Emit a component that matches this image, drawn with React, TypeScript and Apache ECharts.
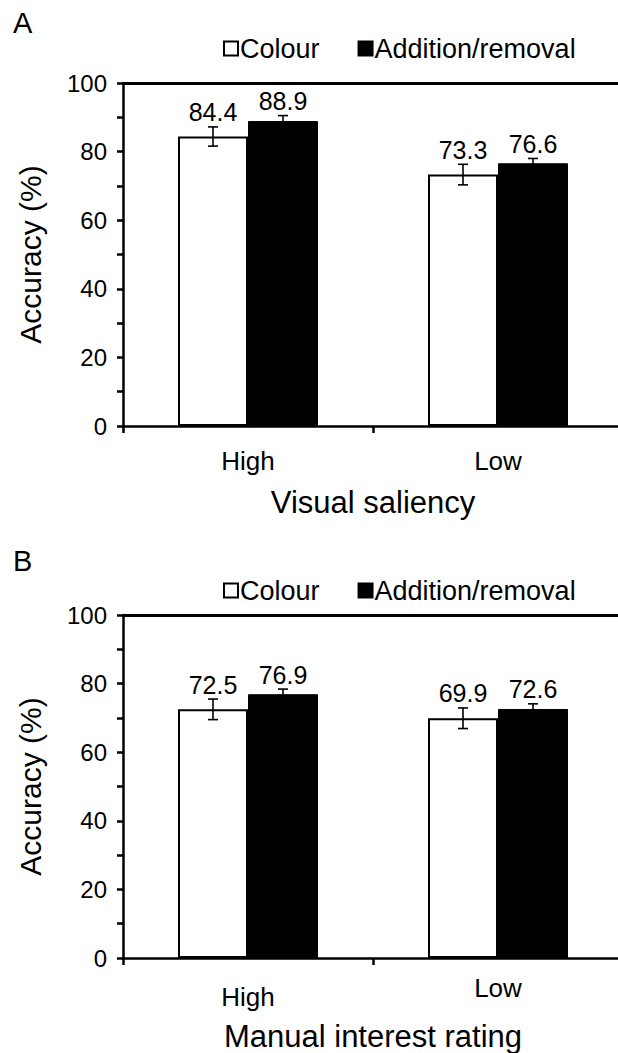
import React, { useEffect, useRef } from "react";
import * as echarts from "echarts";

const categories = ["High", "Low"];
const seriesNames = ["Colour", "Addition/removal"];

const colourA = [84.4, 73.3];
const additionA = [88.9, 76.6];
const colourErrA = [2.8, 3.0];
const additionErrA = [1.6, 1.4];

const colourB = [72.5, 69.9];
const additionB = [76.9, 72.6];
const colourErrB = [3.0, 3.0];
const additionErrB = [1.5, 1.5];

const panelLetters = ["A", "B"];
const xAxisTitles = ["Visual saliency", "Manual interest rating"];
const yAxisTitle = "Accuracy (%)";
const yMin = 0;
const yMax = 100;
const yTickStep = 10;
const yLabelStep = 20;

const FONT = "'Liberation Sans', Arial, Helvetica, sans-serif";

function errorRender(params: any, api: any) {
  const c = api.value(0);
  const v = api.value(1);
  const e = api.value(2);
  const side = api.value(3);
  const band = api.size([1, 0])[0];
  const base = api.coord([c, v]);
  const x = base[0] + side * band * 0.14;
  const top = api.coord([c, v + e])[1];
  const bot = api.coord([c, v - e])[1];
  const hw = 5;
  const ls = { stroke: "#000", lineWidth: 1.6 };
  return {
    type: "group",
    children: [
      { type: "line", shape: { x1: x, y1: top, x2: x, y2: bot }, style: ls },
      { type: "line", shape: { x1: x - hw, y1: top, x2: x + hw, y2: top }, style: ls },
      { type: "line", shape: { x1: x - hw, y1: bot, x2: x + hw, y2: bot }, style: ls },
      {
        type: "text",
        x: x,
        y: top - 2,
        style: {
          text: v.toFixed(1),
          fill: "#000",
          fontSize: 25,
          fontFamily: FONT,
          align: "center",
          verticalAlign: "bottom",
        },
      },
    ],
  };
}

function buildPanel(
  idx: number,
  top: number,
  colour: number[],
  addition: number[],
  colourErr: number[],
  additionErr: number[],
  richLabels: boolean
) {
  const grid = { left: 123, top: top, width: 500, height: 343, outerBoundsMode: "none", containLabel: false };
  const xBottom: any = {
    type: "category",
    gridIndex: idx,
    position: "bottom",
    data: categories,
    name: xAxisTitles[idx],
    nameLocation: "middle",
    nameGap: idx === 0 ? 61 : 63,
    nameTextStyle: { fontSize: 31, fontFamily: FONT, color: "#000" },
    axisLine: { show: true, onZero: false, lineStyle: { color: "#000", width: 2.5 } },
    axisTick: { show: true, inside: false, length: 7, alignWithLabel: false, lineStyle: { color: "#000", width: 2.5 } },
    axisLabel: richLabels
      ? {
          margin: 17,
          color: "#000",
          fontSize: 26,
          fontFamily: FONT,
          formatter: (v: string) => (v === categories[0] ? "{h|" + v + "}" : "{l|" + v + "}"),
          rich: {
            h: { fontSize: 26, fontFamily: FONT, color: "#000", padding: [9, 0, 0, 0] },
            l: { fontSize: 26, fontFamily: FONT, color: "#000" },
          },
        }
      : { margin: 22, color: "#000", fontSize: 26, fontFamily: FONT },
    splitLine: { show: false },
  };
  const xTop: any = {
    type: "category",
    gridIndex: idx,
    position: "top",
    data: categories,
    axisLine: { show: true, onZero: false, lineStyle: { color: "#000", width: 3 } },
    axisTick: { show: false },
    axisLabel: { show: false },
    splitLine: { show: false },
  };
  const yAxis: any = {
    type: "value",
    gridIndex: idx,
    min: yMin,
    max: yMax,
    interval: yTickStep,
    name: yAxisTitle,
    nameLocation: "middle",
    nameRotate: 90,
    nameGap: 78,
    nameTextStyle: { fontSize: 30, fontFamily: FONT, color: "#000" },
    axisLine: { show: true, lineStyle: { color: "#000", width: 2.5 } },
    axisTick: { show: true, inside: false, length: 6, lineStyle: { color: "#000", width: 2.5 } },
    axisLabel: {
      margin: 16,
      color: "#000",
      fontSize: 24,
      fontFamily: FONT,
      formatter: (v: number) => (v % yLabelStep === 0 ? String(v) : ""),
    },
    splitLine: { show: false },
  };
  const xi = idx * 2;
  const series: any[] = [
    {
      name: seriesNames[0],
      type: "bar",
      xAxisIndex: xi,
      yAxisIndex: idx,
      data: colour,
      barWidth: "28%",
      barGap: "0%",
      itemStyle: { color: "#fff", borderColor: "#000", borderWidth: 2 },
      z: 2,
    },
    {
      name: seriesNames[1],
      type: "bar",
      xAxisIndex: xi,
      yAxisIndex: idx,
      data: addition,
      barWidth: "28%",
      barGap: "0%",
      itemStyle: { color: "#000", borderColor: "#000", borderWidth: 1 },
      z: 2,
    },
    {
      type: "custom",
      xAxisIndex: xi,
      yAxisIndex: idx,
      renderItem: errorRender,
      encode: { x: 0, y: 1 },
      data: [
        ...colour.map((v, i) => [i, v, colourErr[i], -1]),
        ...addition.map((v, i) => [i, v, additionErr[i], 1]),
      ],
      z: 5,
    },
  ];
  return { grid, xAxes: [xBottom, xTop], yAxis, series };
}

export default function App() {
  const ref = useRef<HTMLDivElement>(null);
  useEffect(() => {
    if (!ref.current) return;
    const chart = echarts.init(ref.current, undefined, { renderer: "svg" });
    const pA = buildPanel(0, 83, colourA, additionA, colourErrA, additionErrA, false);
    const pB = buildPanel(1, 615, colourB, additionB, colourErrB, additionErrB, true);
    const legendBase = {
      data: seriesNames,
      icon: "rect",
      itemWidth: 14,
      itemHeight: 14,
      itemGap: 38,
      selectedMode: false,
      textStyle: { fontSize: 27, fontFamily: FONT, color: "#000", padding: [0, 0, 0, -3] },
      left: 218,
    };
    chart.setOption({
      animation: false,
      backgroundColor: "#fff",
      grid: [pA.grid, pB.grid],
      xAxis: [...pA.xAxes, ...pB.xAxes],
      yAxis: [pA.yAxis, pB.yAxis],
      legend: [
        { ...legendBase, top: 30 },
        { ...legendBase, top: 572 },
      ],
      graphic: [
        { type: "text", left: 13, top: 8, style: { text: panelLetters[0], fontSize: 29, fontFamily: FONT, fill: "#000" } },
        { type: "text", left: 13, top: 546, style: { text: panelLetters[1], fontSize: 29, fontFamily: FONT, fill: "#000" } },
      ],
      series: [...pA.series, ...pB.series],
    });
    return () => chart.dispose();
  }, []);
  return (
    <div
      ref={ref}
      style={{ position: "absolute", left: 0, top: 0, width: 618, height: 1053, background: "#fff" }}
    />
  );
}
